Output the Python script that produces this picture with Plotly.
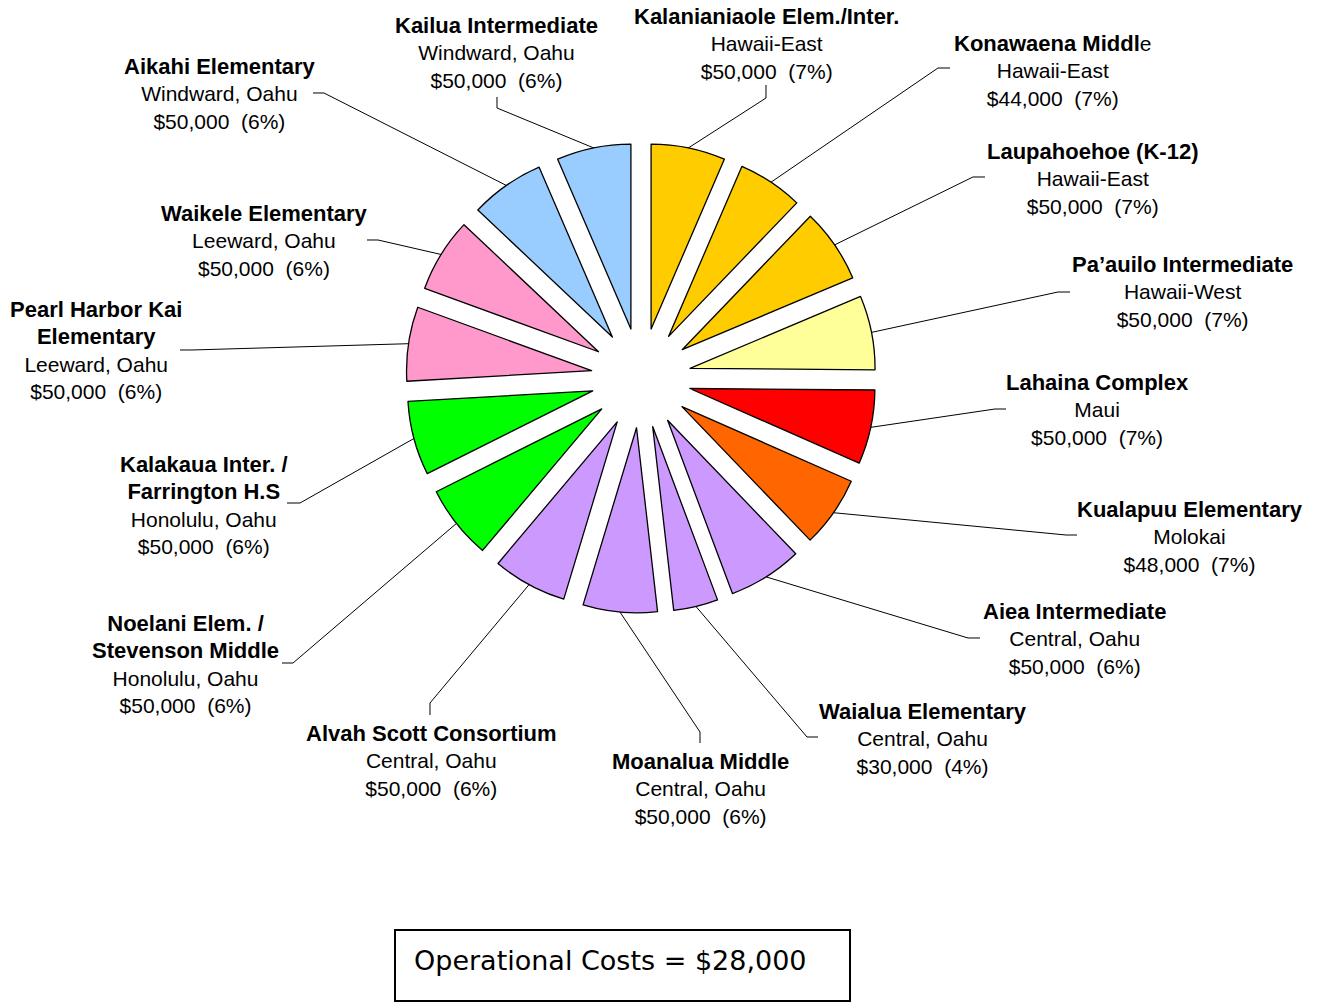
import math
import plotly.graph_objects as go

# ---------------- data ----------------
schools = ["Kalanianiaole Elem./Inter.", "Konawaena Middle", "Laupahoehoe (K-12)",
           "Pa\u2019auilo Intermediate", "Lahaina Complex", "Kualapuu Elementary",
           "Aiea Intermediate", "Waialua Elementary", "Moanalua Middle",
           "Alvah Scott Consortium", "Noelani Elem. /\nStevenson Middle",
           "Kalakaua Inter. /\nFarrington H.S", "Pearl Harbor Kai\nElementary",
           "Waikele Elementary", "Aikahi Elementary", "Kailua Intermediate"]
regions = ["Hawaii-East", "Hawaii-East", "Hawaii-East", "Hawaii-West", "Maui", "Molokai",
           "Central, Oahu", "Central, Oahu", "Central, Oahu", "Central, Oahu",
           "Honolulu, Oahu", "Honolulu, Oahu", "Leeward, Oahu", "Leeward, Oahu",
           "Windward, Oahu", "Windward, Oahu"]
amounts = [50000, 44000, 50000, 50000, 50000, 48000, 50000, 30000,
           50000, 50000, 50000, 50000, 50000, 50000, 50000, 50000]
pct_labels = ["7%", "7%", "7%", "7%", "7%", "7%", "6%", "4%",
              "6%", "6%", "6%", "6%", "6%", "6%", "6%", "6%"]
operational_costs = 28000

# ---------------- styling / layout ----------------
colors = ["#FFCC00", "#FFCC00", "#FFCC00", "#FFFF99", "#FF0000", "#FF6600",
          "#CC99FF", "#CC99FF", "#CC99FF", "#CC99FF", "#00FF00", "#00FF00",
          "#FF99CC", "#FF99CC", "#99CCFF", "#99CCFF"]
unbold_tail = {"Konawaena Middle": 1}

W, H = 1319, 1003
PIE_CX, PIE_CY, PIE_R_OUT = 641, 378, 235   # pixel centre and outer (pulled) radius
PULL = 0.27

# label block centres (pixels) and leader-line elbow/end points
label_pos = [(766, 43), (1052, 70), (1092, 178), (1182, 291), (1097, 409),
             (1190, 536), (1074, 638), (923, 738), (700, 788), (431, 760),
             (185, 664), (204, 505), (96, 350), (264, 240), (220, 93), (497, 53)]
leader_pts = [[(766, 98), (766, 85)], [(938, 68), (950, 68)], [(973, 177), (985, 177)],
              [(1058, 292), (1070, 292)], [(995, 409), (1006, 409)],
              [(1066, 535), (1077, 535)], [(968, 638), (980, 638)],
              [(807, 737), (818, 737)], [(700, 732), (700, 743)],
              [(430, 703), (430, 715)], [(293, 663), (282, 663)],
              [(300, 503), (287, 503)], [(192, 350), (180, 350)],
              [(378, 240), (367, 240)], [(324, 93), (313, 93)], [(497, 108), (497, 97)]]


def px(x):
    return x / W


def py(y):
    return 1 - y / H


FONT = "Liberation Sans, Arial, sans-serif"

fig = go.Figure(go.Pie(
    labels=[s.replace("\n", " ") for s in schools],
    values=amounts,
    sort=False,
    direction="clockwise",
    rotation=0,
    pull=PULL,
    textinfo="none",
    hoverinfo="label+value",
    marker=dict(colors=colors, line=dict(color="black", width=1.3)),
    domain=dict(x=[px(PIE_CX - PIE_R_OUT), px(PIE_CX + PIE_R_OUT)],
                y=[py(PIE_CY + PIE_R_OUT), py(PIE_CY - PIE_R_OUT)]),
    showlegend=False,
))

total = sum(amounts)
shapes = []
annotations = []
cum = 0
for i, v in enumerate(amounts):
    mid = (cum + v / 2) / total * 2 * math.pi
    cum += v
    sx = PIE_CX + PIE_R_OUT * math.sin(mid)
    sy = PIE_CY - PIE_R_OUT * math.cos(mid)
    pts = [(sx, sy)] + leader_pts[i]
    path = "M " + " L ".join(f"{px(x):.5f},{py(y):.5f}" for x, y in pts)
    shapes.append(dict(type="path", xref="paper", yref="paper", path=path,
                       line=dict(color="black", width=1)))

    name = schools[i]
    cut = unbold_tail.get(name, 0)
    bold_part = name[:len(name) - cut] if cut else name
    tail = name[len(name) - cut:] if cut else ""
    name_html = "<br>".join(f"<b>{ln}</b>" for ln in bold_part.split("\n"))
    if tail:
        name_html += f"<span style='font-size:21px'>{tail}</span>"
    name_html = f"<span style='font-size:22px'>{name_html}</span>"
    txt = f"{name_html}<br>{regions[i]}<br>${v:,}\u00a0 ({pct_labels[i]})"
    lx, ly = label_pos[i]
    annotations.append(dict(x=px(lx), y=py(ly), xref="paper", yref="paper",
                            text=txt, showarrow=False, xanchor="center", yanchor="middle",
                            align="center", font=dict(family=FONT, size=21, color="black")))

# Operational costs box
shapes.append(dict(type="rect", xref="paper", yref="paper",
                   x0=px(395), x1=px(850), y0=py(1001), y1=py(930),
                   line=dict(color="black", width=2), fillcolor="rgba(0,0,0,0)"))
annotations.append(dict(x=px(412), y=py(960), xref="paper", yref="paper",
                        text=f"Operational Costs = ${operational_costs:,}", showarrow=False,
                        xanchor="left", yanchor="middle",
                        font=dict(family="DejaVu Sans, sans-serif", size=27, color="black")))

fig.update_layout(
    width=W, height=H, autosize=False,
    margin=dict(l=0, r=0, t=0, b=0),
    paper_bgcolor="white", plot_bgcolor="white",
    shapes=shapes, annotations=annotations,
)

fig.write_html("out.html",
               config={"displayModeBar": False},
               post_script="document.body.style.margin='0px';"
                           "document.body.style.overflow='hidden';")
